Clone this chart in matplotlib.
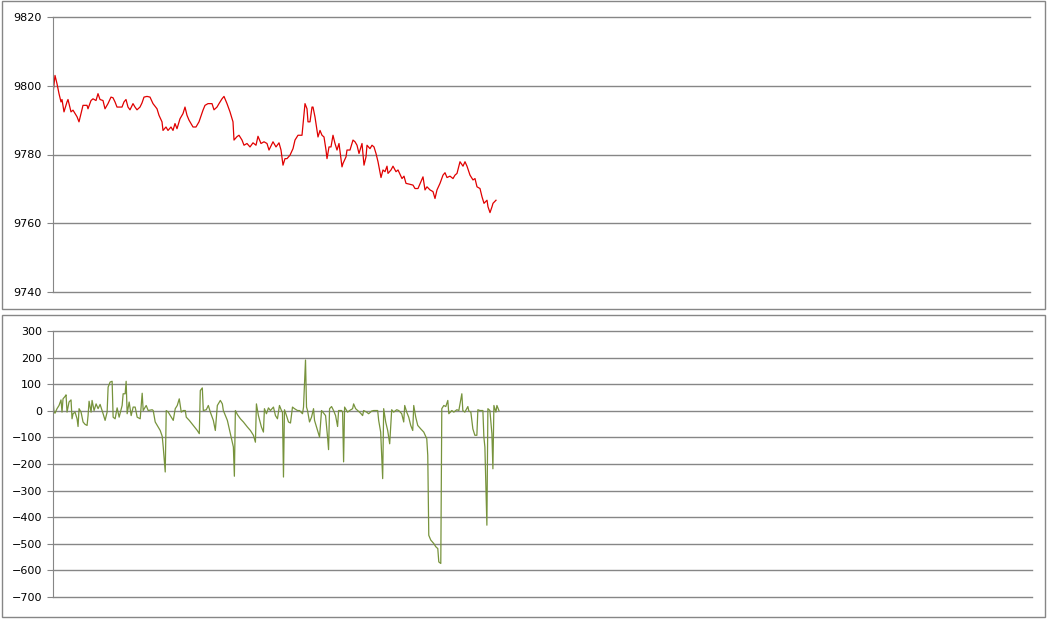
import matplotlib
matplotlib.use("Agg")
import matplotlib.pyplot as plt
from matplotlib.patches import Rectangle

# time index (minutes from open) and index level
price_t = [0, 2, 4, 6, 8, 9, 11, 14, 15, 18, 20, 24, 26, 28, 30, 34, 35, 38, 40, 43,
           45, 47, 50, 52, 55, 58, 60, 62, 64, 69, 71, 73, 75, 77, 80, 82, 84, 87, 89, 91,
           94, 97, 100, 104, 106, 109, 110, 113, 115, 118, 120, 122, 124, 127, 130, 132, 134, 136, 140, 143,
           146, 150, 152, 155, 159, 161, 164, 166, 169, 171, 174, 177, 180, 181, 184, 186, 189, 191, 194, 197,
           200, 203, 205, 208, 211, 214, 216, 220, 223, 226, 228, 230, 232, 234, 237, 240, 242, 245,
           249, 251, 252, 254, 255, 257, 259, 260, 262, 264, 265, 267, 269, 271, 273, 274, 276, 278, 280, 282,
           284, 286, 289, 290, 293, 294, 297, 300, 302, 304, 306, 309, 311, 313, 314, 317, 319, 321, 323, 325,
           328, 330, 332, 334, 335, 338, 340, 343, 345, 349, 351, 353, 356, 360, 362, 365, 368, 370, 372, 374,
           377, 380, 382, 384, 387, 390, 392, 394, 397, 400, 402, 404, 407, 410, 412, 414, 417, 420, 422, 424,
           427, 429, 431, 434, 435, 437, 439, 440, 443]
price = [9797.7, 9803, 9800.6, 9797.7, 9795.3, 9796, 9792.4, 9795.3, 9796, 9792.4,
         9792.9, 9791, 9789.5, 9791.9, 9794.3, 9794.3, 9793.3, 9795.7, 9796.2, 9795.7,
         9797.7, 9796, 9795.7, 9793.3, 9794.8, 9796.7, 9796.5, 9795.3, 9793.8, 9793.8,
         9795.3, 9796, 9793.8, 9793, 9794.8, 9793.8, 9793, 9793.8, 9795, 9796.7,
         9796.9, 9796.7, 9794.8, 9793.3, 9791.4, 9789.5, 9787, 9788, 9787, 9788,
         9787, 9789, 9787.5, 9790.4, 9791.9, 9793.8, 9791.4, 9790, 9788, 9788,
         9789.5, 9792.9, 9794.3, 9794.8, 9794.8, 9793, 9793.8, 9794.8, 9796.2, 9796.9,
         9794.8, 9792.4, 9789.5, 9784.2, 9785.2, 9785.6, 9784.2, 9782.7, 9783.2, 9782.2,
         9783.4, 9782.7, 9785.3, 9783.2, 9783.7, 9783.2, 9781.3, 9783.7, 9782.2, 9783.4,
         9781.3, 9776.9, 9778.8, 9778.8, 9779.8, 9781.7, 9784.2, 9785.6,
         9785.6, 9791.9, 9794.8, 9793.3, 9789.5, 9789.5, 9793.8, 9793.8, 9790.9, 9787,
         9785.1, 9787, 9785.6, 9785.1, 9781.3, 9778.8, 9782.2, 9782.2, 9785.6, 9783.2,
         9781.3, 9783.2, 9776.4, 9777.4, 9779.3, 9781.3, 9781.3, 9784.2, 9783.7, 9782.7,
         9780.3, 9783.2, 9776.9, 9779.3, 9782.7, 9781.7, 9782.7, 9782.2, 9780.3, 9777.9,
         9773.3, 9775.5, 9775, 9776.6, 9774.5, 9775.5, 9776.6, 9775, 9775.5, 9773,
         9773.7, 9771.6, 9771.4, 9771.1, 9770.1, 9770.1, 9772.1, 9773.5, 9769.7, 9770.6,
         9769.7, 9769.2, 9767.2, 9769.7, 9771.6, 9774, 9774.7, 9773.3, 9773.7, 9773,
         9774, 9774.5, 9777.9, 9776.6, 9777.9, 9776.6, 9774, 9772.6, 9773, 9770.6,
         9770.1, 9767.7, 9765.8, 9766.7, 9764.8, 9763.1, 9764.8, 9765.8, 9766.7]

# lower panel series
flow_t = [0, 1, 2, 4, 6, 8, 9, 10, 12, 13, 14, 16, 18, 19, 20, 22, 24, 25, 26, 28,
          30, 32, 34, 35, 36, 38, 39, 41, 43, 45, 47, 49, 50, 52, 54, 55, 57, 59, 60, 62,
          64, 66, 69, 70, 72, 73, 74, 76, 78, 80, 82, 84, 87, 89, 90, 93, 95, 99, 100, 102,
          104, 107, 109, 110, 112, 113, 115, 118, 120, 122, 124, 126, 128, 130, 132, 133, 136, 140, 144, 146,
          147, 149, 150, 153, 155, 157, 160, 162, 164, 167, 169, 170, 174, 177, 180, 181, 182, 184, 187, 190,
          194, 197, 200, 202, 203, 205, 208, 210, 211, 213, 215, 217, 220, 222, 224, 226,
          228, 229, 230, 231, 233, 235, 237, 239, 241, 244, 246, 249, 250, 252, 253, 254, 256, 258, 260, 261,
          264, 266, 268, 272, 274, 275, 276, 278, 280, 282, 284, 285, 288, 289, 290, 291, 294, 296, 299, 300,
          302, 304, 307, 309, 310, 313, 315, 318, 320, 322, 324, 325, 327, 329, 330, 332, 334, 336, 338, 340,
          343, 345, 348, 350, 351, 353, 355, 357, 359, 360, 362, 364, 367, 370, 373, 374, 375, 377, 380, 382,
          384, 385, 387, 388, 390, 392, 394, 395, 398, 400, 403, 405, 408, 409, 411, 414, 415, 417, 419, 421,
          423, 424, 426, 429, 430, 431, 433, 434, 436, 438, 439, 440, 442, 443, 445]
flow = [45, -5, -9, 8, 20, 41, -5, 45, 54, 60, -5, 33, 41, -30, -11, -5, -30, -59, 8, -5,
        -42, -51, -55, -18, 36, -5, 39, 1, 26, 8, 24, 1, -11, -36, -5, 89, 108, 111, -24, -30,
        11, -24, 20, 64, 64, 111, -11, 33, -18, 14, 14, -24, -30, 66, 1, 20, 1, 4, 1, -42,
        -55, -74, -96, -136, -230, 1, -5, -24, -36, 8, 20, 45, -5, 1, 1, -24, -36, -55, -74, -86,
        76, 86, 1, 4, 20, -5, -36, -74, 20, 39, 26, 1, -36, -86, -136, -246, 1, -14, -30, -42,
        -61, -74, -92, -118, 26, -18, -61, -80, 8, -11, 11, 1, 14, -18, -30, 20,
        1, -5, -249, 4, -18, -42, -46, 14, 8, 1, 1, -11, 14, 191, 14, 1, -42, -24, 8, -36,
        -74, -99, 1, -18, -99, -146, 8, 16, 1, -18, -59, 1, 1, -5, -192, 14, -5, 1, 8, 26,
        8, 1, -9, -18, 1, -5, -11, -1, 1, 1, 1, -36, -80, -255, 8, -42, -74, -124, 4, -5,
        4, 1, -11, -42, 20, -5, -24, -55, -74, 20, -24, -55, -68, -80, -105, -168, -468, -486, -499, -511,
        -518, -568, -574, 8, 20, 16, 39, -11, 1, -5, 4, 1, 64, 1, -5, 16, -1, -5, -68, -92,
        -92, 4, 1, 1, -99, -136, -430, 8, 1, -86, -218, 20, -5, 20, 1]

session_len = 977
price_ticks = [9740, 9760, 9780, 9800, 9820]
flow_ticks = list(range(-700, 301, 100))

grey = "#868686"
plt.rcParams["font.family"] = "DejaVu Sans"

fig = plt.figure(figsize=(10.48, 6.2), dpi=100)
W, H = 1048.0, 620.0

# outer chart frames
for (x0, y0, x1, y1) in [(2, 1, 1045, 309), (2, 315, 1045, 617)]:
    fig.patches.append(Rectangle((x0 / W, 1 - y1 / H), (x1 - x0) / W, (y1 - y0) / H,
                                 transform=fig.transFigure, fill=False,
                                 edgecolor=grey, linewidth=1.0))

ax1 = fig.add_axes([53 / W, 1 - 292 / H, 977 / W, 275 / H])
ax2 = fig.add_axes([53 / W, 1 - 597 / H, 979 / W, 266 / H])

ax1.plot(price_t, price, color="#E00000", linewidth=0.9)
ax2.plot(flow_t, flow, color="#77933C", linewidth=0.9)

for ax, ticks in [(ax1, price_ticks), (ax2, flow_ticks)]:
    ax.set_xlim(0, session_len)
    ax.set_ylim(ticks[0], ticks[-1])
    ax.set_yticks(ticks)
    ax.set_xticks([])
    ax.grid(axis="y", color=grey, linewidth=1.0)
    for gl in ax.get_ygridlines():
        gl.set_clip_on(False)
    ax.set_axisbelow(True)
    for s in ["top", "right", "bottom"]:
        ax.spines[s].set_visible(False)
    ax.spines["left"].set_color(grey)
    ax.tick_params(axis="y", length=4, color=grey, labelsize=8, pad=4)
    ax.patch.set_alpha(0)

fig.savefig("out.png", dpi=100)
